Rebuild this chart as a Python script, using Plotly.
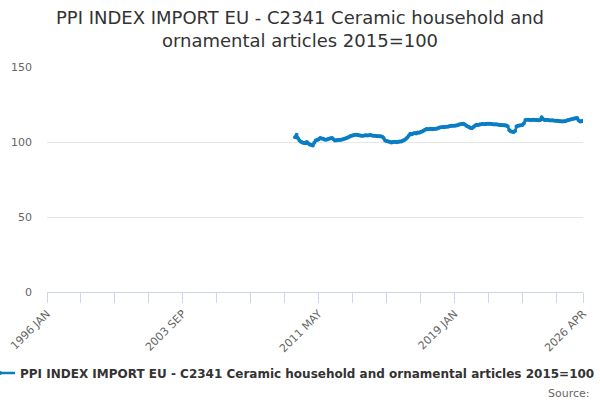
import plotly.graph_objects as go

MONTHS = ["JAN", "FEB", "MAR", "APR", "MAY", "JUN",
          "JUL", "AUG", "SEP", "OCT", "NOV", "DEC"]

# monthly categories 1996 JAN .. 2026 APR
categories = [f"{y} {m}" for y in range(1996, 2027) for m in MONTHS][:364]

# index values (2015=100), series begins 2010 JAN
v2010 = [103.2, 104.9, 102.5, 101.0, 100.2, 99.6, 99.3, 99.1, 100.0, 99.0, 98.4, 98.0]
v2011 = [97.6, 99.5, 101.0, 101.4, 101.9, 102.6, 102.4, 102.1, 101.7, 101.5, 101.8, 102.2]
v2012 = [102.5, 102.6, 101.8, 101.0, 101.2, 101.4, 101.3, 101.5, 101.7, 102.0, 102.3, 102.6]
v2013 = [103.2, 103.6, 104.2, 104.4, 104.6, 104.9, 104.8, 104.5, 104.3, 104.2, 104.2, 104.4]
v2014 = [104.5, 104.3, 104.5, 104.6, 104.4, 104.2, 104.1, 104.0, 103.9, 103.8, 103.8, 103.5]
v2015 = [102.6, 101.0, 100.6, 100.4, 100.1, 99.7, 99.8, 100.1, 100.0, 99.8, 100.2, 100.3]
v2016 = [100.4, 100.8, 101.3, 102.0, 103.0, 104.2, 105.5, 105.1, 105.6, 106.0, 105.6, 106.3]
v2017 = [106.2, 106.6, 107.0, 107.5, 108.2, 108.7, 108.5, 108.6, 108.8, 108.5, 108.7, 108.9]
v2018 = [108.9, 109.3, 109.6, 109.8, 110.0, 109.8, 110.1, 110.2, 110.4, 110.6, 110.8, 110.9]
v2019 = [110.8, 111.0, 111.2, 111.6, 111.8, 112.0, 112.2, 111.6, 110.9, 110.3, 109.8, 109.4]
v2020 = [109.3, 110.2, 111.0, 111.5, 111.4, 111.7, 111.9, 112.0, 111.8, 112.0, 112.1, 112.2]
v2021 = [112.2, 112.0, 111.9, 111.7, 111.8, 111.6, 111.5, 111.3, 111.4, 111.2, 111.1, 111.0]
v2022 = [110.5, 108.0, 107.2, 106.8, 106.7, 107.3, 110.3, 110.9, 111.0, 111.2, 111.4, 112.5]
v2023 = [114.6, 114.9, 114.8, 114.6, 114.7, 114.9, 114.8, 114.6, 114.7, 114.5, 114.6, 116.5]
v2024 = [115.2, 114.7, 114.8, 114.6, 114.5, 114.4, 114.5, 114.3, 114.2, 114.1, 114.2, 113.9]
v2025 = [113.8, 113.7, 113.8, 113.9, 114.3, 114.6, 114.9, 115.1, 115.3, 115.6, 115.9, 116.0]
v2026 = [114.5, 113.7, 113.9, 114.2]

series = (v2010 + v2011 + v2012 + v2013 + v2014 + v2015 + v2016 + v2017
          + v2018 + v2019 + v2020 + v2021 + v2022 + v2023 + v2024 + v2025 + v2026)
values = [None] * (len(categories) - len(series)) + series

y_ticks = [0, 50, 100, 150]
labelled = ["1996 JAN", "2003 SEP", "2011 MAY", "2019 JAN", "2026 APR"]
tick_cats = categories[::23] + [categories[-1]]
tick_text = [c if c in labelled else "" for c in tick_cats]

NAME = "PPI INDEX IMPORT EU - C2341 Ceramic household and ornamental articles 2015=100"
BLUE = "#0a7dc4"

fig = go.Figure()
fig.add_trace(go.Scatter(
    x=categories, y=values, name=NAME, mode="lines+markers",
    line=dict(color=BLUE, width=2.5),
    marker=dict(color=BLUE, size=4),
    connectgaps=False,
))

fig.update_layout(
    width=600, height=400,
    margin=dict(l=47, r=17, t=67, b=108, autoexpand=False),
    paper_bgcolor="white", plot_bgcolor="white",
    font=dict(family="DejaVu Sans", color="#666666", size=11),
    title=dict(
        text="PPI INDEX IMPORT EU - C2341 Ceramic household and<br>ornamental articles 2015=100",
        x=0.5, xanchor="center", xref="container",
        y=0.94, yanchor="top", yref="container",
        font=dict(family="DejaVu Sans", size=18, color="#333333"),
    ),
    showlegend=True,
    legend=dict(
        orientation="h", x=-0.125, xanchor="left", y=-0.36, yanchor="middle",
        font=dict(family="DejaVu Sans", size=12, color="#333333", weight="bold"),
        itemwidth=30, bgcolor="rgba(0,0,0,0)",
    ),
)

fig.update_xaxes(
    type="category", categoryorder="array", categoryarray=categories,
    range=[0, len(categories) - 1],
    tickmode="array", tickvals=tick_cats, ticktext=tick_text,
    tickangle=-45, ticks="outside", ticklen=10, tickcolor="#ccd6eb",
    showline=True, linecolor="#ccd6eb", linewidth=1,
    showgrid=False, zeroline=False,
    tickfont=dict(size=11, color="#666666"),
)
fig.update_yaxes(
    range=[0, 150], tickmode="array", tickvals=y_ticks,
    showgrid=True, gridcolor="#e6e6e6", zeroline=False,
    showline=False, ticks="", ticklabelstandoff=14,
    tickfont=dict(size=11, color="#666666"),
)

fig.add_annotation(
    text="Source:", xref="paper", yref="paper", x=1.017, y=-0.45,
    xanchor="right", yanchor="middle", showarrow=False,
    font=dict(family="DejaVu Sans", size=11, color="#666666"),
)

# drop the browser's default body margin so the 600x400 figure fills the window
fig.write_html("out.html", config={"displayModeBar": False},
               post_script="document.body.style.margin = '0';")
